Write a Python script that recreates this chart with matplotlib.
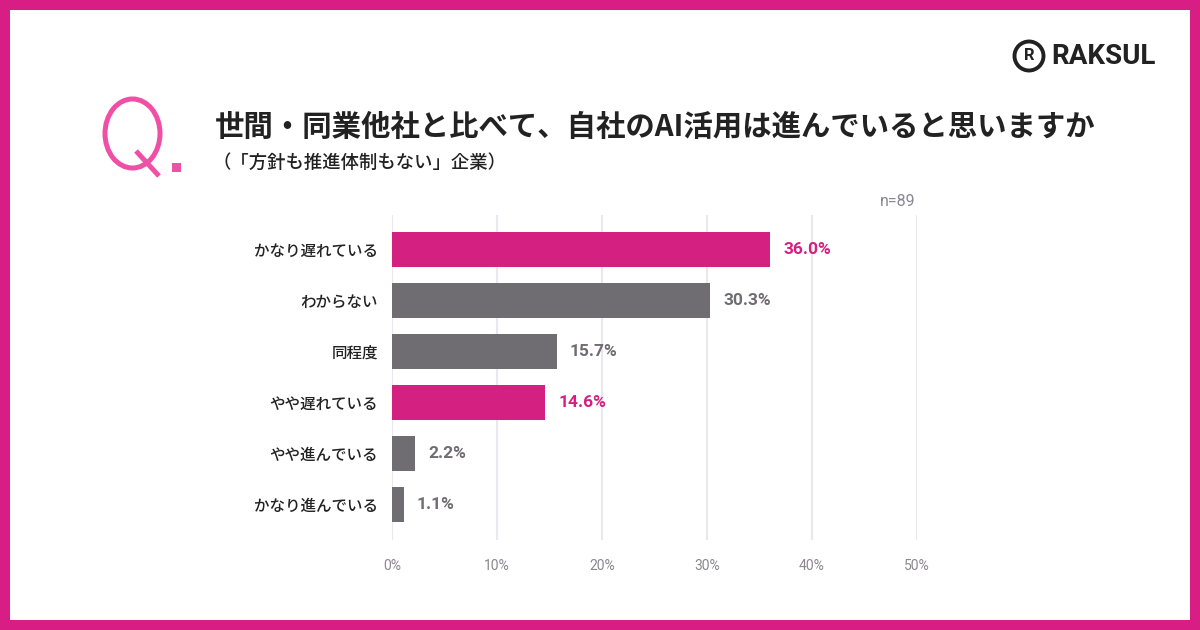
import matplotlib
matplotlib.use("Agg")
import matplotlib.pyplot as plt
from matplotlib.patches import Rectangle, Ellipse
from matplotlib.lines import Line2D

plt.rcParams['font.family'] = ['Noto Sans CJK JP', 'DejaVu Sans']

categories = ["かなり遅れている", "わからない", "同程度", "やや遅れている", "やや進んでいる", "かなり進んでいる"]
values = [36.0, 30.3, 15.7, 14.6, 2.2, 1.1]
highlight = [True, False, False, True, False, False]
xticks = [0, 10, 20, 30, 40, 50]
xtick_labels = ["0%", "10%", "20%", "30%", "40%", "50%"]

PINK = "#D42181"
GRAY = "#6F6C72"
BORDER = "#D81E84"
QPINK = "#F04FA6"

W, H = 1200, 630
fig = plt.figure(figsize=(12, 6.3), dpi=100)
fig.patch.set_facecolor(BORDER)
fig.patches.append(Rectangle((10/W, 10/H), 1180/W, 610/H, transform=fig.transFigure,
                             facecolor="white", edgecolor="none", zorder=-10))

ax = fig.add_axes([392/W, 1-540/H, 525/W, 325/H])
ax.set_zorder(5)
ax.set_facecolor("none")
ypos = list(range(len(categories)))
colors = [PINK if h else GRAY for h in highlight]
ax.barh(ypos, values, height=0.70, color=colors, zorder=3)
ax.set_xlim(0, 50)
ax.set_ylim(len(categories) - 0.30, -0.68)
ax.set_xticks(xticks)
ax.set_xticklabels(xtick_labels, family=['Roboto', 'DejaVu Sans'], fontsize=10, color="#8A8790")
ax.set_yticks(ypos)
ax.set_yticklabels(categories, fontsize=11.2, fontweight="medium", color="#222222")
ax.tick_params(axis='both', length=0)
ax.tick_params(axis='x', pad=14)
ax.tick_params(axis='y', pad=10)
for s in ax.spines.values():
    s.set_visible(False)
ax.grid(axis='x', color="#E9E7EF", linewidth=1.5, zorder=0)
ax.set_axisbelow(True)

for y, v, c in zip(ypos, values, colors):
    ax.annotate(f"{v:.1f}%", (v, y), xytext=(9.5, 0), textcoords="offset points",
                va="center", ha="left", fontsize=12.5, fontweight="bold", color=c,
                family=['Roboto', 'DejaVu Sans'])

fig.text(915/W, 1-201/H, "n=89", ha="right", va="center", fontsize=11.5,
         color="#8A8790", family=['Roboto', 'DejaVu Sans'])

# Q. mark
fig.patches.append(Ellipse((132.5/W, 1-133.5/H), 55/W, 69/H, transform=fig.transFigure,
                           facecolor="none", edgecolor=QPINK, linewidth=3.6, zorder=6))
fig.lines.append(Line2D([136/W, 159/W], [1-151/H, 1-176/H], transform=fig.transFigure,
                        color=QPINK, linewidth=3.6, solid_capstyle="butt", zorder=6))
fig.patches.append(Rectangle((172/W, 1-172/H), 9/W, 9/H, transform=fig.transFigure,
                             facecolor=QPINK, edgecolor="none", zorder=6))

fig.text(215/W, 1-127/H, "世間・同業他社と比べて、自社のAI活用は進んでいると思いますか",
         ha="left", va="center", fontsize=21.2, fontweight="bold", color="#222222")
fig.text(213/W, 1-163/H, "（「方針も推進体制もない」企業）",
         ha="left", va="center", fontsize=13.2, fontweight="medium", color="#222222")

# logo
fig.patches.append(Ellipse((1029/W, 1-56/H), 29/W, 29/H, transform=fig.transFigure,
                           facecolor="none", edgecolor="#222222", linewidth=2.8, zorder=6))
fig.text(1029.5/W, 1-56/H, "R", ha="center", va="center", fontsize=12, fontweight="bold",
         color="#222222", family=['Roboto', 'DejaVu Sans'])
fig.text(1051/W, 1-57/H, "RAKSUL", ha="left", va="center", fontsize=20, fontweight="bold",
         color="#222222", family=['Roboto', 'DejaVu Sans'])

fig.savefig("out.png", dpi=100, facecolor=fig.get_facecolor())
